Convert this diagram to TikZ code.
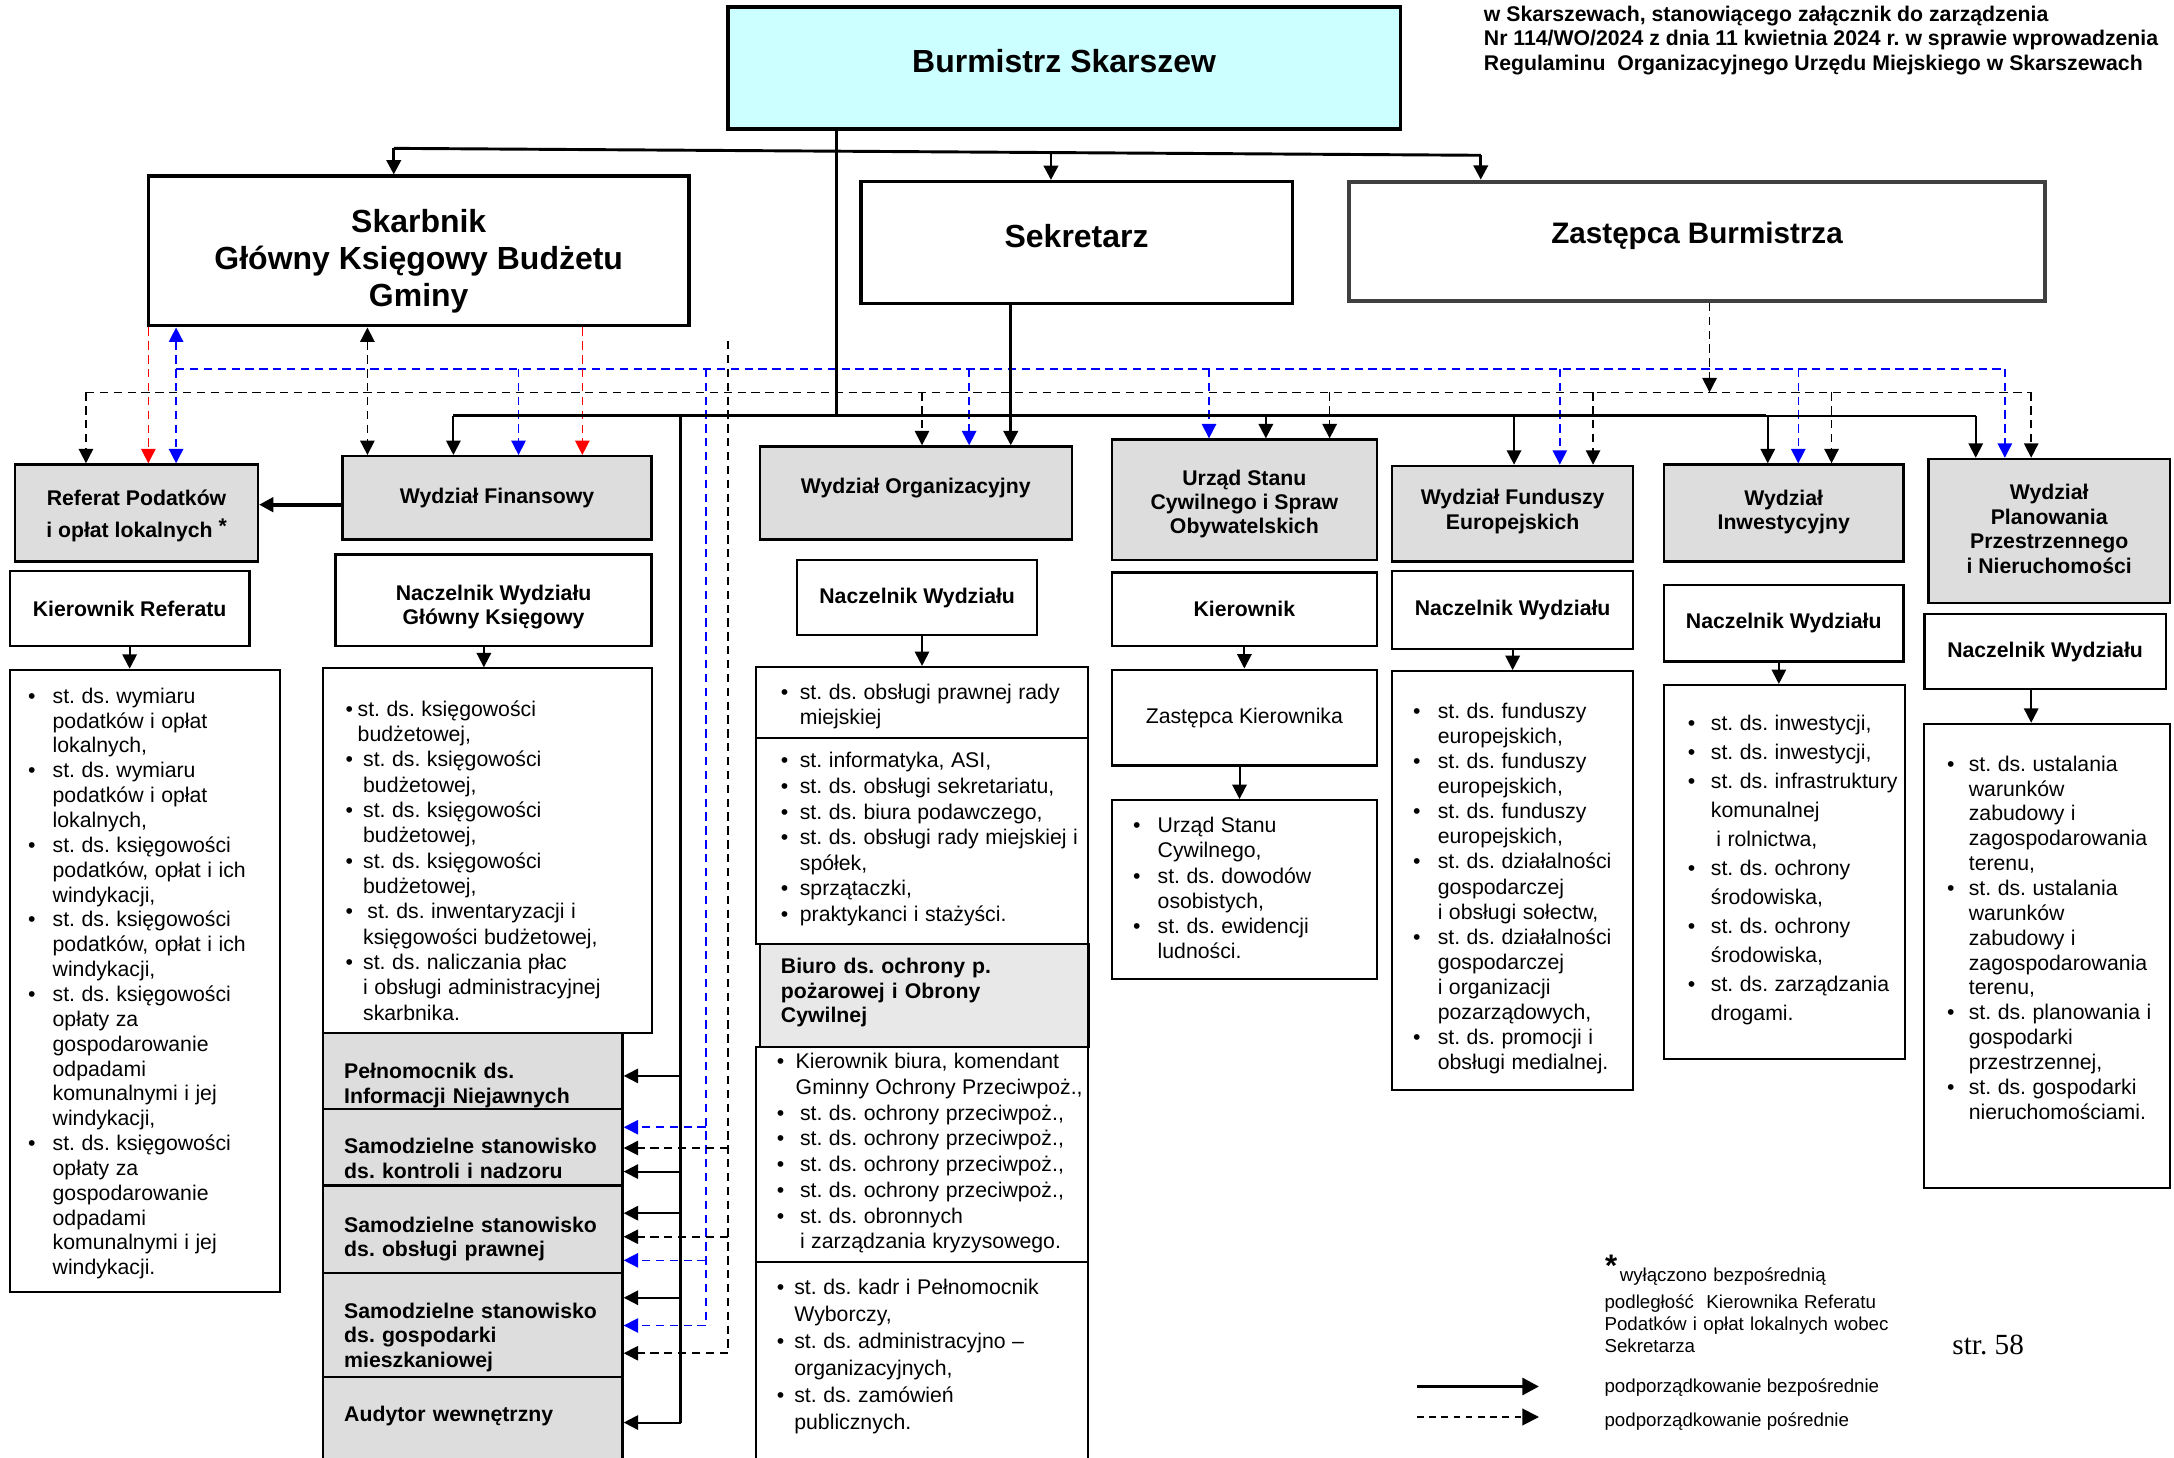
\documentclass[tikz,border=0pt]{standalone}
\usepackage{fontspec}
\setmainfont{Liberation Sans}
\newfontfamily\strfont{Liberation Serif}
\usetikzlibrary{arrows.meta,fit}
\definecolor{burmcyan}{HTML}{CCFFFF}
\definecolor{deptgrey}{HTML}{DDDDDD}
\definecolor{biurogrey}{HTML}{E8E8E8}
\newcommand\titlefont{\fontsize{10.9pt}{12.5pt}\selectfont\bfseries}
\newcommand\bigtitle{\fontsize{16.4pt}{18.9pt}\selectfont\bfseries}
\newcommand\notefont{\fontsize{9.6pt}{11.1pt}\selectfont}
\newcommand\listfont[1]{\fontsize{10.9pt}{#1}\selectfont}
\newcommand\bitem[2]{\par\noindent\hangindent=#1\hangafter=1\strut\makebox[#1][l]{\textbullet}#2\par}
\frenchspacing

\begin{document}
\begin{tikzpicture}[x=0.25mm, y=-0.25mm,
	>={Triangle[length=2.6mm,width=2.6mm]},
	bigbox/.style={draw, line width=1.7pt, inner sep=0pt},
	dept/.style={draw, line width=1.2pt, fill=deptgrey, inner sep=0pt},
	head/.style={draw, line width=1.2pt, fill=white, inner sep=0pt},
	tt/.style={label={[font=\titlefont,align=center]center:{#1}}},
	lbox/.style={draw, line width=1pt, inner sep=0pt},
	lst/.style={anchor=north west, inner sep=0pt, text width=75mm, align=left},
	lefttxt/.style={anchor=west, inner sep=0pt, text width=50mm, align=left, font=\titlefont},
	bus/.style={line width=1.5pt},
	sol/.style={line width=1pt, arrows=->},
	dsh/.style={line width=0.8pt, dash pattern=on 1.5mm off 1mm},
	bdsh/.style={dsh, blue},
	rdsh/.style={dsh, red}]
	\path[fill=white] (0,0) rectangle (1568,1051);
	\useasboundingbox (0,0) rectangle (1568,1051);

	% kierownictwo
	\node (burm) [bigbox, fill=burmcyan, fit={(525,5) (1010,93)}, label={[font=\bigtitle,yshift=3.5pt]center:Burmistrz Skarszew}] {};
	\node (skarb) [bigbox, fit={(107,127) (497,235)}, label={[font=\bigtitle,align=center,yshift=-5.4pt]center:{Skarbnik\\Główny Księgowy Budżetu\\Gminy}}] {};
	\node (sekr) [bigbox, fit={(621,131) (932,219)}, label={[font=\bigtitle,yshift=3.5pt]center:Sekretarz}] {};
	\node (zast) [bigbox, draw=black!75, line width=2pt, fit={(973,131) (1475,217)}, label={[font=\fontsize{15.2pt}{17pt}\selectfont\bfseries,yshift=3pt]center:Zastępca Burmistrza}] {};
	\node (hdr) [anchor=north west, inner sep=0pt, font=\titlefont, align=left] at (1070,4) {w Skarszewach, stanowiącego załącznik do zarządzenia\\Nr 114/WO/2024 z dnia 11 kwietnia 2024 r. w sprawie wprowadzenia\\Regulaminu~ Organizacyjnego Urzędu Miejskiego w Skarszewach};

	% wydzialy
	\node (ref) [dept, fit={(11,335) (186,405)}, label={[font=\titlefont,align=center,yshift=-1.4pt]center:{Referat Podatków\\[3.9pt]i opłat lokalnych \raisebox{2pt}{*}}}] {};
	\node (fin) [dept, fit={(247,329) (470,389)}, tt={Wydział Finansowy}] {};
	\node (org) [dept, fit={(548,322) (773,389)}, label={[font=\titlefont,yshift=2.5pt]center:Wydział Organizacyjny}] {};
	\node (urz) [dept, fit={(802,317) (993,404)}, label={[font=\titlefont,align=center,yshift=-2.1pt]center:{Urząd Stanu\\Cywilnego i Spraw\\Obywatelskich}}] {};
	\node (fund) [dept, fit={(1004,336) (1178,405)}, label={[font=\titlefont,align=center,yshift=1.1pt]center:{Wydział Funduszy\\Europejskich}}] {};
	\node (inw) [dept, fit={(1200,335) (1373,405)}, label={[font=\titlefont,align=center,yshift=0.6pt]center:{Wydział\\Inwestycyjny}}] {};
	\node (plan) [dept, fit={(1391,331) (1565,435)}, label={[font=\titlefont,align=center,yshift=1.1pt]center:{Wydział\\Planowania\\Przestrzennego\\i Nieruchomości}}] {};

	\node (kref) [head, fit={(7,412) (180,466)}, tt={Kierownik Referatu}] {};
	\node (nfin) [head, fit={(242,400) (470,466)}, label={[font=\titlefont,align=center,yshift=-3.4pt]center:{Naczelnik Wydziału\\Główny Księgowy}}] {};
	\node (norg) [head, fit={(575,404) (748,458)}, tt={Naczelnik Wydziału}] {};
	\node (kusc) [head, fit={(802,413) (993,466)}, tt={Kierownik}] {};
	\node (zkusc) [head, fit={(802,483) (993,552)}, label={[font=\fontsize{10.9pt}{12.5pt}\selectfont]center:Zastępca Kierownika}] {};
	\node (nfund) [head, fit={(1004,412) (1178,468)}, tt={Naczelnik Wydziału}] {};
	\node (ninw) [head, fit={(1200,422) (1373,477)}, tt={Naczelnik Wydziału}] {};
	\node (nplan) [head, fit={(1388,443) (1562,497)}, tt={Naczelnik Wydziału}] {};

	% listy stanowisk
	\node (lref) [lbox, fit={(7,483) (202,932)}] {};
	\node (lfin) [lbox, fit={(233,482) (470,745)}] {};
	\node (lorg1) [lbox, fit={(545,481) (785,532)}] {};
	\node (lorg2) [lbox, fit={(545,532) (785,681)}] {};
	\node (biuro) [dept, fill=biurogrey, fit={(548,681) (785,755)}] {};
	\node (biurot) [lefttxt] at (563,716) {Biuro ds. ochrony p.\\pożarowej i Obrony\\Cywilnej};
	\node (lorg3) [lbox, fit={(545,755) (785,910)}] {};
	\node (lorg4) [lbox, fit={(545,910) (785,1062)}] {};
	\node (lurz) [lbox, fit={(802,577) (993,706)}] {};
	\node (lfund) [lbox, fit={(1004,484) (1178,786)}] {};
	\node (linw) [lbox, fit={(1200,494) (1374,764)}] {};
	\node (lplan) [lbox, fit={(1388,522) (1565,857)}] {};

	\node (pel) [dept, fit={(233,745) (449,800)}] {};
	\node (kon) [dept, fit={(233,800) (449,855)}] {};
	\node (pra) [dept, fit={(233,855) (449,918)}] {};
	\node (mie) [dept, fit={(233,918) (449,993)}] {};
	\node (aud) [dept, fit={(233,993) (449,1062)}] {};
	\node (pelt) [lefttxt] at (248,783) {Pełnomocnik ds.\\Informacji Niejawnych};
	\node (kont) [lefttxt] at (248,835.5) {Samodzielne stanowisko\\ds. kontroli i nadzoru};
	\node (prat) [lefttxt] at (248,893.5) {Samodzielne stanowisko\\ds. obsługi prawnej};
	\node (miet) [lefttxt] at (248,964.5) {Samodzielne stanowisko\\ds. gospodarki\\mieszkaniowej};
	\node (audt) [lefttxt] at (248,1021) {Audytor wewnętrzny};

	\node[lst] (tref) at (20,489) {\listfont{12.75pt}
		\bitem{12.6pt}{st. ds. wymiaru\newline podatków i opłat\newline lokalnych,}
		\bitem{12.6pt}{st. ds. wymiaru\newline podatków i opłat\newline lokalnych,}
		\bitem{12.6pt}{st. ds. księgowości\newline podatków, opłat i ich\newline windykacji,}
		\bitem{12.6pt}{st. ds. księgowości\newline podatków, opłat i ich\newline windykacji,}
		\bitem{12.6pt}{st. ds. księgowości\newline opłaty za\newline gospodarowanie\newline odpadami\newline komunalnymi i jej\newline windykacji,}
		\bitem{12.6pt}{st. ds. księgowości\newline opłaty za\newline gospodarowanie\newline odpadami\newline komunalnymi i jej\newline windykacji.}};
	\node[lst] (tfin) at (249,498) {\listfont{13pt}
		\bitem{6.2pt}{st. ds. księgowości\newline budżetowej,}
		\bitem{9pt}{st. ds. księgowości\newline budżetowej,}
		\bitem{9pt}{st. ds. księgowości\newline budżetowej,}
		\bitem{9pt}{st. ds. księgowości\newline budżetowej,}
		\bitem{9pt}{\hspace*{2.2pt}st. ds. inwentaryzacji i\newline księgowości budżetowej,}
		\bitem{9pt}{st. ds. naliczania płac\newline i obsługi administracyjnej\newline skarbnika.}};
	\node[lst] (torg1) at (563,486) {\listfont{12.9pt}
		\bitem{9.7pt}{st. ds. obsługi prawnej rady\newline miejskiej}};
	\node[lst] (torg2) at (563,535) {\listfont{13.15pt}
		\bitem{9.7pt}{st. informatyka, ASI,}
		\bitem{9.7pt}{st. ds. obsługi sekretariatu,}
		\bitem{9.7pt}{st. ds. biura podawczego,}
		\bitem{9.7pt}{st. ds. obsługi rady miejskiej i\newline spółek,}
		\bitem{9.7pt}{sprzątaczki,}
		\bitem{9.7pt}{praktykanci i stażyści.}};
	\node[lst] (torg3) at (560,752) {\listfont{13.2pt}
		\bitem{9.7pt}{Kierownik biura, komendant\newline Gminny Ochrony Przeciwpoż.,}
		\bitem{11.9pt}{st. ds. ochrony przeciwpoż.,}
		\bitem{11.9pt}{st. ds. ochrony przeciwpoż.,}
		\bitem{11.9pt}{st. ds. ochrony przeciwpoż.,}
		\bitem{11.9pt}{st. ds. ochrony przeciwpoż.,}
		\bitem{11.9pt}{st. ds. obronnych\newline i zarządzania kryzysowego.}};
	\node[lst] (torg4) at (560,914) {\listfont{13.8pt}
		\bitem{9pt}{st. ds. kadr i Pełnomocnik\newline Wyborczy,}
		\bitem{9pt}{st. ds. administracyjno –\newline organizacyjnych,}
		\bitem{9pt}{st. ds. zamówień\newline publicznych.}};
	\node[lst] (turz) at (817,582) {\listfont{12.95pt}
		\bitem{12.6pt}{Urząd Stanu\newline Cywilnego,}
		\bitem{12.6pt}{st. ds. dowodów\newline osobistych,}
		\bitem{12.6pt}{st. ds. ewidencji\newline ludności.}};
	\node[lst] (tfund) at (1019,500) {\listfont{12.85pt}
		\bitem{12.6pt}{st. ds. funduszy\newline europejskich,}
		\bitem{12.6pt}{st. ds. funduszy\newline europejskich,}
		\bitem{12.6pt}{st. ds. funduszy\newline europejskich,}
		\bitem{12.6pt}{st. ds. działalności\newline gospodarczej\newline i obsługi sołectw,}
		\bitem{12.6pt}{st. ds. działalności\newline gospodarczej\newline i organizacji\newline pozarządowych,}
		\bitem{12.6pt}{st. ds. promocji i\newline obsługi medialnej.}};
	\node[lst] (tinw) at (1217,506) {\listfont{14.85pt}
		\bitem{11.9pt}{st. ds. inwestycji,}
		\bitem{11.9pt}{st. ds. inwestycji,}
		\bitem{11.9pt}{st. ds. infrastruktury\newline komunalnej\newline\hspace*{2.8pt}i rolnictwa,}
		\bitem{11.9pt}{st. ds. ochrony\newline środowiska,}
		\bitem{11.9pt}{st. ds. ochrony\newline środowiska,}
		\bitem{11.9pt}{st. ds. zarządzania\newline drogami.}};
	\node[lst] (tplan) at (1404,538) {\listfont{12.75pt}
		\bitem{11.2pt}{st. ds. ustalania\newline warunków\newline zabudowy i\newline zagospodarowania\newline terenu,}
		\bitem{11.2pt}{st. ds. ustalania\newline warunków\newline zabudowy i\newline zagospodarowania\newline terenu,}
		\bitem{11.2pt}{st. ds. planowania i\newline gospodarki\newline przestrzennej,}
		\bitem{11.2pt}{st. ds. gospodarki\newline nieruchomościami.}};

	% przypis, legenda
	\node (fnstar) [inner sep=0pt, font=\fontsize{16pt}{16pt}\selectfont\bfseries] at (1162,913) {*};
	\node (fntext) [anchor=north west, inner sep=0pt, font=\notefont, text width=60mm, align=left] at (1157,914) {\hspace*{7.8pt}wyłączono bezpośrednią\\[3pt]podległość~ Kierownika Referatu\\Podatków i opłat lokalnych wobec\\Sekretarza};
	\node (page) [font=\fontsize{15pt}{15pt}\strfont] at (1434,970) {str. 58};
	\node (lgt1) [anchor=west, inner sep=0pt, font=\notefont] at (1157,1001) {podporządkowanie bezpośrednie};
	\node (lgt2) [anchor=west, inner sep=0pt, font=\notefont] at (1157,1025) {podporządkowanie pośrednie};
	\coordinate (lga) at (1022,1000);
	\coordinate (lgb) at (1110,1000);
	\coordinate (lgc) at (1022,1022);
	\coordinate (lgd) at (1110,1022);
	\draw[line width=2pt, -{Triangle[length=3mm,width=3mm]}] (lga) -- (lgb);
	\draw[line width=1pt, dash pattern=on 1.2mm off 1mm, -{Triangle[length=3mm,width=3mm]}] (lgc) -- (lgd);

	% szyny
	\coordinate (bbus) at (0,266);
	\coordinate (dbus) at (0,283);
	\coordinate (mbus) at (0,300);
	\coordinate (tbusl) at (284,107);
	\coordinate (tbusr) at (1068,112);

	% podporzadkowanie posrednie
	\draw[bdsh] (127,0 |- bbus) -- (1446,0 |- bbus);
	\draw[bdsh,<->] (127,0 |- skarb.south) -- (127,0 |- ref.north);
	\foreach \n/\x in {fin/374,org/699,urz/872,fund/1125,inw/1297,plan/1446}
		\draw[bdsh,->] (\x,0 |- bbus) -- (\x,0 |- \n.north);
	\draw[bdsh] (509,0 |- bbus) -- (509,956);
	\foreach \n/\y in {kon/813,pra/909,mie/956}
		\draw[bdsh,->] (509,\y) -- (\n.east |- 0,\y);
	\draw[dsh] (62,0 |- dbus) -- (1465,0 |- dbus);
	\foreach \n/\x in {ref/62,org/665,urz/959,fund/1149,inw/1321,plan/1465}
		\draw[dsh,->] (\x,0 |- dbus) -- (\x,0 |- \n.north);
	\draw[dsh,->] (1233,0 |- zast.south) -- (1233,0 |- dbus);
	\draw[dsh,<->] (265,0 |- skarb.south) -- (265,0 |- fin.north);
	\draw[dsh] (525,246) -- (525,976);
	\foreach \n/\y in {kon/828,pra/892,mie/976}
		\draw[dsh,->] (525,\y) -- (\n.east |- 0,\y);
	\draw[rdsh,->] (107,0 |- skarb.south) -- (107,0 |- ref.north);
	\draw[rdsh,->] (420,0 |- skarb.south) -- (420,0 |- fin.north);

	% podporzadkowanie bezposrednie
	\draw[bus] (tbusl) -- (tbusr);
	\draw[bus,->] (tbusl) -- (tbusl |- skarb.north);
	\draw[bus,->] (758,110) -- (758,0 |- sekr.north);
	\draw[bus,->] (tbusr) -- (tbusr |- zast.north);
	\draw[bus] (603,0 |- burm.south) -- (603,0 |- mbus);
	\draw[bus] (327,0 |- mbus) -- (1274,0 |- mbus);
	\draw[line width=1pt] (1274,0 |- mbus) -- (1425,0 |- mbus);
	\foreach \n/\x in {fin/327,urz/913,fund/1092,inw/1275,plan/1425}
		\draw[sol] (\x,0 |- mbus) -- (\x,0 |- \n.north);
	\draw[bus,->] (729,0 |- sekr.south) -- (729,0 |- org.north);
	\draw[bus] (491,0 |- mbus) -- (491,1026);
	\foreach \n/\y in {pel/776,kon/845,pra/875,mie/936,aud/1026}
		\draw[sol] (491,\y) -- (\n.east |- 0,\y);
	\draw[line width=2pt,->] (fin.west |- 0,364) -- (ref.east |- 0,364);

	\draw[sol] (kref.south) -- (kref.south |- lref.north);
	\draw[sol] (349,0 |- nfin.south) -- (349,0 |- lfin.north);
	\draw[sol] (665,0 |- norg.south) -- (665,0 |- lorg1.north);
	\draw[sol] (kusc.south) -- (zkusc.north);
	\draw[sol] (894,0 |- zkusc.south) -- (894,0 |- lurz.north);
	\draw[sol] (nfund.south) -- (nfund.south |- lfund.north);
	\draw[sol] (1283,0 |- ninw.south) -- (1283,0 |- linw.north);
	\draw[sol] (1465,0 |- nplan.south) -- (1465,0 |- lplan.north);
\end{tikzpicture}
\end{document}
